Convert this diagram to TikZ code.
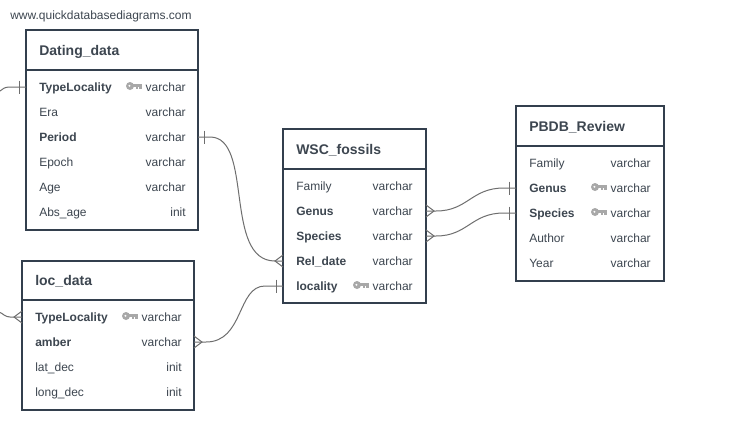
\documentclass[tikz,border=0pt]{standalone}
\usepackage{fontspec}
\setmainfont{Liberation Sans}
\usetikzlibrary{calc}
\definecolor{ink}{HTML}{333F4D}
\definecolor{txt}{HTML}{3D4650}
\definecolor{wire}{HTML}{6E6E6E}
\definecolor{keyc}{HTML}{A8A8A8}
\tikzset{
  x=0.75pt,y=-0.75pt,
  box/.style={draw=ink,line width=1.5pt,fill=white,outer sep=0pt,inner sep=0pt},
  divider/.style={draw=ink,line width=1.5pt},
  cell/.style={inner sep=0pt,text height=8.1pt,text depth=1.9pt,font=\fontsize{9}{10}\selectfont,text=txt},
  fname/.style={cell,anchor=west},
  fkey/.style={cell,anchor=west,font=\fontsize{9}{10}\selectfont\bfseries},
  ftype/.style={cell,anchor=east},
  title/.style={inner sep=0pt,anchor=west,text height=10.5pt,text depth=2.5pt,font=\fontsize{10.5}{12}\selectfont\bfseries,text=txt},
  url/.style={inner sep=0pt,anchor=west,font=\fontsize{9}{10}\selectfont,text=txt},
  conn/.style={draw=wire,line width=0.75pt},
  crowfoot/.pic={\draw[conn] (0,-6) -- (8,0) -- (0,6);},
  barmark/.pic={\draw[conn] (6.5,-6.5) -- (6.5,6.5);},
  keyicon/.pic={
    \fill[keyc,even odd rule] (4,0) circle[radius=4] (3.4,-0.2) circle[radius=1.3];
    \fill[keyc] (7,-1.9) rectangle (15.5,1);
    \fill[keyc] (10,0) rectangle (12,3);
    \fill[keyc] (13,0) rectangle (15.5,3);
  }
}
\begin{document}
\begin{tikzpicture}
\useasboundingbox[fill=white] (0,0) rectangle (752,446);
\node[url] (site) at (10,16) {www.quickdatabasediagrams.com};

% Dating_data
\node[box,minimum width=129pt,minimum height=150pt] (dating) at (112,130) {};
\node[title] (dtitle) at (39,50) {Dating\_data};
\draw[divider] (dating.west |- 0,70) -- (dating.east |- 0,70);
\node[fkey] (d1) at (39,87) {TypeLocality};
\node[fname] (d2) at (39,112) {Era};
\node[fkey] (d3) at (39,137) {Period};
\node[fname] (d4) at (39,162) {Epoch};
\node[fname] (d5) at (39,187) {Age};
\node[fname] (d6) at (39,212) {Abs\_age};
\node[ftype] (d1t) at (186,87) {varchar};
\node[ftype] (d2t) at (186,112) {varchar};
\node[ftype] (d3t) at (186,137) {varchar};
\node[ftype] (d4t) at (186,162) {varchar};
\node[ftype] (d5t) at (186,187) {varchar};
\node[ftype] (d6t) at (186,212) {init};
\pic at (126,86) {keyicon};

% loc_data
\node[box,minimum width=129pt,minimum height=111.75pt] (loc) at (108,335.5) {};
\node[title] (ltitle) at (35,280) {loc\_data};
\draw[divider] (loc.west |- 0,300) -- (loc.east |- 0,300);
\node[fkey] (l1) at (35,317) {TypeLocality};
\node[fkey] (l2) at (35,342) {amber};
\node[fname] (l3) at (35,367) {lat\_dec};
\node[fname] (l4) at (35,392) {long\_dec};
\node[ftype] (l1t) at (182,317) {varchar};
\node[ftype] (l2t) at (182,342) {varchar};
\node[ftype] (l3t) at (182,367) {init};
\node[ftype] (l4t) at (182,392) {init};
\pic at (122,316) {keyicon};

% WSC_fossils
\node[box,minimum width=107.25pt,minimum height=130.5pt] (wsc) at (354.5,216) {};
\node[title] (wtitle) at (296,149) {WSC\_fossils};
\draw[divider] (wsc.west |- 0,169) -- (wsc.east |- 0,169);
\node[fname] (w1) at (296,186) {Family};
\node[fkey] (w2) at (296,211) {Genus};
\node[fkey] (w3) at (296,236) {Species};
\node[fkey] (w4) at (296,261) {Rel\_date};
\node[fkey] (w5) at (296,286) {locality};
\node[ftype] (w1t) at (413,186) {varchar};
\node[ftype] (w2t) at (413,211) {varchar};
\node[ftype] (w3t) at (413,236) {varchar};
\node[ftype] (w4t) at (413,261) {varchar};
\node[ftype] (w5t) at (413,286) {varchar};
\pic at (353,285) {keyicon};

% PBDB_Review
\node[box,minimum width=111pt,minimum height=131.25pt] (pbdb) at (590,193.5) {};
\node[title] (ptitle) at (529,126) {PBDB\_Review};
\draw[divider] (pbdb.west |- 0,146) -- (pbdb.east |- 0,146);
\node[fname] (p1) at (529,163) {Family};
\node[fkey] (p2) at (529,188) {Genus};
\node[fkey] (p3) at (529,213) {Species};
\node[fname] (p4) at (529,238) {Author};
\node[fname] (p5) at (529,263) {Year};
\node[ftype] (p1t) at (651,163) {varchar};
\node[ftype] (p2t) at (651,188) {varchar};
\node[ftype] (p3t) at (651,213) {varchar};
\node[ftype] (p4t) at (651,238) {varchar};
\node[ftype] (p5t) at (651,263) {varchar};
\pic at (591,187) {keyicon};
\pic at (591,212) {keyicon};

% connector ends
\coordinate (eDper) at (dating.east |- d3);
\coordinate (eWrel) at (wsc.west |- w4);
\coordinate (eLamb) at (loc.east |- l2);
\coordinate (eWloc) at (wsc.west |- w5);
\coordinate (eWgen) at (wsc.east |- w2);
\coordinate (ePgen) at (pbdb.west |- p2);
\coordinate (eWspe) at (wsc.east |- w3);
\coordinate (ePspe) at (pbdb.west |- p3);
\coordinate (eDtyp) at (dating.west |- d1);
\coordinate (eLtyp) at (loc.west |- l1);
\coordinate (fD) at (0,91);
\coordinate (fL) at (0,312.5);

% connectors
\draw[conn] (eDper) -- ++(12,0) .. controls +(44,0) and ($(eWrel)+(-60,0)$) .. ($(eWrel)+(-8,0)$) -- (eWrel);
\pic at (eDper) {barmark};
\pic[xscale=-1] at (eWrel) {crowfoot};
\draw[conn] (eLamb) -- ++(12,0) .. controls +(38,0) and ($(eWloc)+(-46,0)$) .. ($(eWloc)+(-18,0)$) -- (eWloc);
\pic at (eLamb) {crowfoot};
\pic[xscale=-1] at (eWloc) {barmark};
\draw[conn] (eWgen) -- ++(10,0) .. controls +(32,0) and ($(ePgen)+(-45,0)$) .. ($(ePgen)+(-12,0)$) -- (ePgen);
\pic at (eWgen) {crowfoot};
\pic[xscale=-1] at (ePgen) {barmark};
\draw[conn] (eWspe) -- ++(10,0) .. controls +(32,0) and ($(ePspe)+(-45,0)$) .. ($(ePspe)+(-12,0)$) -- (ePspe);
\pic at (eWspe) {crowfoot};
\pic[xscale=-1] at (ePspe) {barmark};
\draw[conn] (eDtyp) -- ++(-16,0) .. controls +(-6,0) and ($(fD)+(3,-2)$) .. (fD);
\pic[xscale=-1] at (eDtyp) {barmark};
\draw[conn] (eLtyp) -- ++(-12,0) .. controls +(-5,0) and ($(fL)+(3,1)$) .. (fL);
\pic[xscale=-1] at (eLtyp) {crowfoot};
\end{tikzpicture}
\end{document}
